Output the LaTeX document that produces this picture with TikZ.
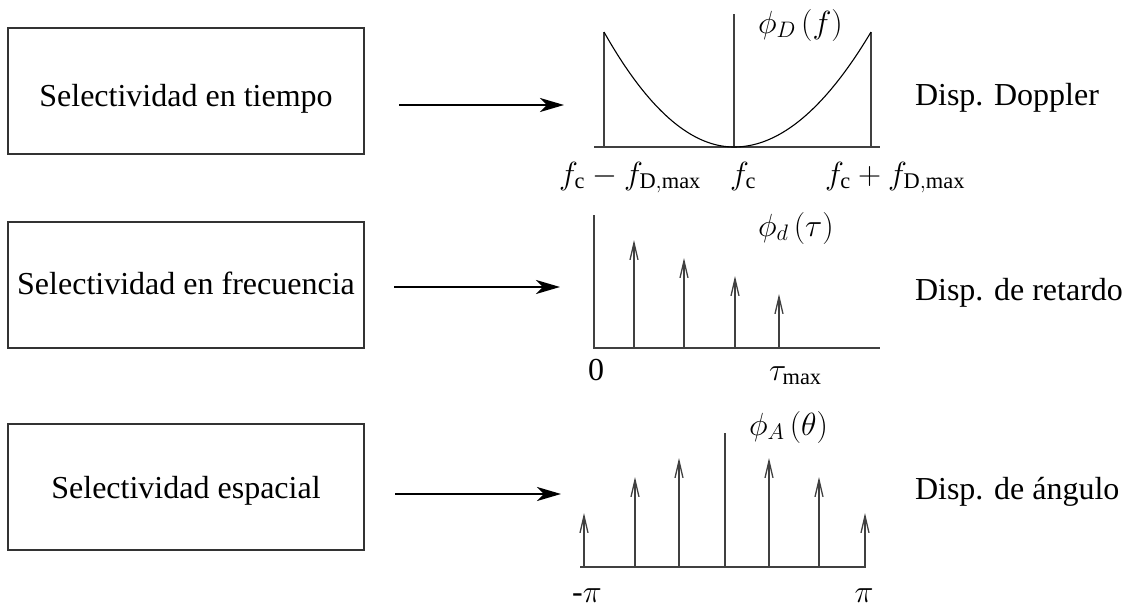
\RequirePackage{fix-cm}
\documentclass[tikz,border=0pt]{standalone}
\usepackage{fontspec}
\setmainfont{Liberation Serif}
\usetikzlibrary{arrows.meta}
\begin{document}
\begin{tikzpicture}[x=1pt,y=-1pt,
  every node/.style={inner sep=0pt,outer sep=0pt,font=\fontsize{32}{38}\selectfont},
  selbox/.style={draw=black!80,line width=1.2pt,minimum width=356pt,minimum height=126pt},
  bigarrow/.style={line width=2.4pt,-{Stealth[length=24pt,width=14pt,inset=7pt]}},
  axisline/.style={draw=black!75,line width=1.2pt},
  stem/.style={draw=black!75,line width=1.2pt,-{Straight Barb[length=17pt,width=8pt,line width=1.3pt]}},
  curveline/.style={draw=black,line width=1.1pt}]
\useasboundingbox (0,0) rectangle (1125,608);

% boxes
\node[selbox] (box1) at (186,91) {};
\node[selbox] (box2) at (186,285) {};
\node[selbox] (box3) at (186,487) {};
\node[anchor=base] (t1) at (186,106) {Selectividad en tiempo};
\node[anchor=base] (t2) at (186,294) {Selectividad en frecuencia};
\node[anchor=base] (t3) at (186,498) {Selectividad espacial};

% arrows
\coordinate (a1s) at (399,105); \coordinate (a1e) at (564,105);
\coordinate (a2s) at (394,287); \coordinate (a2e) at (560,287);
\coordinate (a3s) at (395,494); \coordinate (a3e) at (561,494);
\draw[bigarrow] (a1s) -- (a1e);
\draw[bigarrow] (a2s) -- (a2e);
\draw[bigarrow] (a3s) -- (a3e);

% right labels
\node[anchor=base west] (d1) at (915,105) {Disp. Doppler};
\node[anchor=base west] (d2) at (915,300) {Disp. de retardo};
\node[anchor=base west] (d3) at (915,499) {Disp. de ángulo};

% plot 1: Doppler
\coordinate (p1a) at (594,147); \coordinate (p1b) at (880,147);
\draw[axisline] (p1a) -- (p1b);
\coordinate (p1l0) at (604,147); \coordinate (p1l1) at (604,32);
\coordinate (p1c0) at (734,147); \coordinate (p1c1) at (734,14);
\coordinate (p1r0) at (871,147); \coordinate (p1r1) at (871,32);
\draw[axisline] (p1l0) -- (p1l1);
\draw[axisline] (p1c0) -- (p1c1);
\draw[axisline] (p1r0) -- (p1r1);
\draw[curveline] plot[domain=604:734,samples=60] (\x,{147-115*((\x-734)/130)^2});
\draw[curveline] plot[domain=734:871,samples=60] (\x,{147-115*((\x-734)/137)^2});
\node[anchor=base west] (l1) at (758,33) {$\phi_D\left(f\right)$};
\node[anchor=base] (f1) at (630,184) {$f_\mathrm{c}-f_\mathrm{D,max}$};
\node[anchor=base] (f2) at (743,184) {$f_\mathrm{c}$};
\node[anchor=base] (f3) at (895,184) {$f_\mathrm{c}+f_\mathrm{D,max}$};

% plot 2: delay
\coordinate (p2o) at (594,348); \coordinate (p2x) at (880,348); \coordinate (p2y) at (594,215);
\draw[axisline] (p2y) -- (p2o) -- (p2x);
\coordinate (s21) at (634,348); \coordinate (s21t) at (634,240);
\coordinate (s22) at (684,348); \coordinate (s22t) at (684,258);
\coordinate (s23) at (735,348); \coordinate (s23t) at (735,276);
\coordinate (s24) at (779,348); \coordinate (s24t) at (779,294);
\draw[stem] (s21) -- (s21t);
\draw[stem] (s22) -- (s22t);
\draw[stem] (s23) -- (s23t);
\draw[stem] (s24) -- (s24t);
\node[anchor=base west] (l2) at (758,236) {$\phi_d\left(\tau\right)$};
\node[anchor=base] (z0) at (596,380) {0};
\node[anchor=base west] (tm) at (769,380) {$\tau_\mathrm{max}$};

% plot 3: angle
\coordinate (p3a) at (580,567); \coordinate (p3b) at (866,567);
\draw[axisline] (p3a) -- (p3b);
\coordinate (s31) at (584,567); \coordinate (s31t) at (584,513);
\coordinate (s32) at (635,567); \coordinate (s32t) at (635,477);
\coordinate (s33) at (679,567); \coordinate (s33t) at (679,458);
\coordinate (s34) at (725,567); \coordinate (s34t) at (725,433);
\coordinate (s35) at (769,567); \coordinate (s35t) at (769,458);
\coordinate (s36) at (819,567); \coordinate (s36t) at (819,477);
\coordinate (s37) at (865,567); \coordinate (s37t) at (865,513);
\draw[stem] (s31) -- (s31t);
\draw[stem] (s32) -- (s32t);
\draw[stem] (s33) -- (s33t);
\draw[axisline] (s34) -- (s34t);
\draw[stem] (s35) -- (s35t);
\draw[stem] (s36) -- (s36t);
\draw[stem] (s37) -- (s37t);
\node[anchor=base west] (l3) at (749,435) {$\phi_A\left(\theta\right)$};
\node[anchor=base] (mp) at (587,602) {-$\pi$};
\node[anchor=base] (pp) at (864,602) {$\pi$};
\end{tikzpicture}
\end{document}
